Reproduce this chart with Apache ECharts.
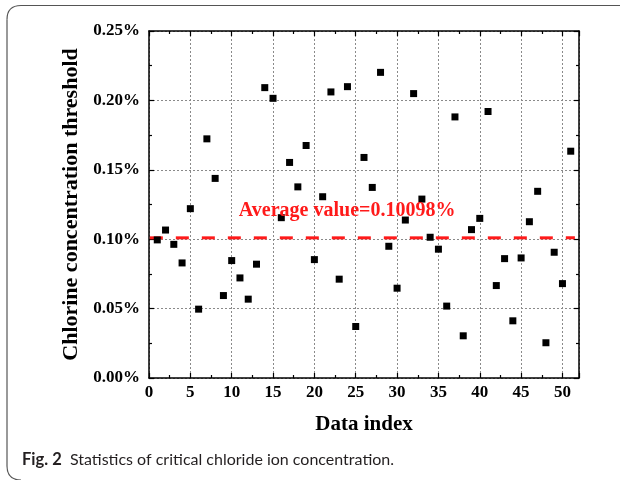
<!DOCTYPE html>
<html>
<head>
<meta charset="utf-8">
<script src="https://cdn.jsdelivr.net/npm/echarts@6/dist/echarts.min.js"></script>
<style>
html,body{margin:0;padding:0;background:#fff;}
#chart{width:624px;height:480px;}
</style>
</head>
<body>
<div id="chart"></div>
<script>
// ---- data ----
const dataIndex = [1,2,3,4,5,6,7,8,9,10,11,12,13,14,15,16,17,18,19,20,21,22,23,24,25,26,27,28,29,30,31,32,33,34,35,36,37,38,39,40,41,42,43,44,45,46,47,48,49,50,51];
const thresholdPct = [0.0995,0.1066,0.0963,0.0829,0.1220,0.0496,0.1723,0.1438,0.0594,0.0846,
  0.0721,0.0568,0.0820,0.2092,0.2015,0.1155,0.1553,0.1377,0.1675,0.0853,
  0.1306,0.2061,0.0712,0.2099,0.0371,0.1589,0.1373,0.2202,0.0949,0.0647,
  0.1138,0.2049,0.1289,0.1014,0.0928,0.0518,0.1881,0.0304,0.1069,0.1150,
  0.1920,0.0666,0.0860,0.0412,0.0865,0.1126,0.1345,0.0254,0.0906,0.0680,0.1634];
const averageValue = 0.10098;
const averageLineX = [0.1, 51.5];
const averageLabelAt = [23.96, 0.1208];
const xTicks = [0,5,10,15,20,25,30,35,40,45,50];
const yTicks = [0,0.05,0.10,0.15,0.20,0.25];
const xTitle = 'Data index';
const yTitle = 'Chlorine concentration threshold';
const captionBold = 'Fig. 2';
const captionText = 'Statistics of critical chloride ion concentration.';

const serif = '"Liberation Serif","Times New Roman",serif';
const sans = 'Lato, "Open Sans", sans-serif';
const scatterData = dataIndex.map((x, i) => [x, thresholdPct[i]]);
const avgData = averageLineX.map(x => [x, averageValue]);

const chart = echarts.init(document.getElementById('chart'), null, {renderer: 'canvas'});

const gridLine = {show: true, lineStyle: {color: '#8a8a8a', width: 1, type: [2, 2]}};
const axisLineStyle = {show: true, onZero: false, lineStyle: {color: '#000', width: 1.5}};

const option = {
  backgroundColor: '#fff',
  animation: false,
  grid: {left: 149, right: 45, top: 31, bottom: 102, containLabel: false},
  xAxis: [{
    type: 'value', position: 'bottom', min: 0, max: 52, interval: 5,
    axisLine: axisLineStyle,
    axisTick: {show: true, inside: true, length: 5, lineStyle: {color: '#000', width: 1.2}},
    minorTick: {show: true, splitNumber: 2, length: 3, lineStyle: {color: '#000', width: 1.2}},
    splitLine: gridLine,
    axisLabel: {
      show: true, margin: 6, showMaxLabel: false,
      color: '#000', fontFamily: serif, fontWeight: 'bold', fontSize: 17,
      formatter: v => xTicks.indexOf(v) >= 0 ? String(v) : ''
    },
    name: xTitle, nameLocation: 'middle', nameGap: 36,
    nameTextStyle: {color: '#000', fontFamily: serif, fontWeight: 'bold', fontSize: 21}
  }, {
    type: 'value', position: 'top', min: 0, max: 52, interval: 5,
    axisLine: axisLineStyle,
    axisTick: {show: true, inside: true, length: 5, lineStyle: {color: '#000', width: 1.2}},
    minorTick: {show: true, splitNumber: 2, length: 3, lineStyle: {color: '#000', width: 1.2}},
    splitLine: {show: false}, axisLabel: {show: false}
  }],
  yAxis: [{
    type: 'value', position: 'left', min: 0, max: 0.25, interval: 0.05,
    axisLine: axisLineStyle,
    axisTick: {show: true, inside: true, length: 5, lineStyle: {color: '#000', width: 1.2}},
    minorTick: {show: true, splitNumber: 2, length: 3, lineStyle: {color: '#000', width: 1.2}},
    splitLine: gridLine,
    axisLabel: {
      show: true, margin: 9, color: '#000', fontFamily: serif, fontWeight: 'bold', fontSize: 17,
      formatter: v => {
        const t = yTicks.find(y => Math.abs(y - v) < 1e-9);
        return t === undefined ? '' : t.toFixed(2) + '%';
      }
    },
    name: yTitle, nameLocation: 'middle', nameGap: 65, nameRotate: 90,
    nameTextStyle: {color: '#000', fontFamily: serif, fontWeight: 'bold', fontSize: 22}
  }, {
    type: 'value', position: 'right', min: 0, max: 0.25, interval: 0.05,
    axisLine: axisLineStyle,
    axisTick: {show: true, inside: true, length: 5, lineStyle: {color: '#000', width: 1.2}},
    minorTick: {show: true, splitNumber: 2, length: 3, lineStyle: {color: '#000', width: 1.2}},
    splitLine: {show: false}, axisLabel: {show: false}
  }],
  series: [{
    type: 'line', xAxisIndex: 0, yAxisIndex: 0,
    data: avgData, symbol: 'none', silent: true, z: 3,
    lineStyle: {color: '#ff1a1a', width: 3, type: [13, 13]}
  }, {
    type: 'scatter', xAxisIndex: 0, yAxisIndex: 0,
    data: scatterData, symbol: 'rect', symbolSize: 7, z: 4,
    itemStyle: {color: '#000', opacity: 1}
  }, {
    type: 'scatter', xAxisIndex: 0, yAxisIndex: 0,
    data: [averageLabelAt], symbolSize: 1, silent: true, z: 5,
    itemStyle: {color: 'rgba(0,0,0,0)', opacity: 1},
    label: {
      show: true, position: 'inside', color: '#ff1a1a',
      fontFamily: serif, fontWeight: 'bold', fontSize: 20,
      formatter: () => 'Average value=' + averageValue.toFixed(5) + '%'
    }
  }],
  graphic: [{
    type: 'line', silent: true,
    shape: {x1: 620, y1: 5.5, x2: 21, y2: 5.5},
    style: {stroke: '#555', lineWidth: 1.2}
  }, {
    type: 'bezierCurve', silent: true,
    shape: {x1: 21, y1: 5.5, x2: 7, y2: 19.5, cpx1: 7, cpy1: 5.5},
    style: {fill: 'none', stroke: '#555', lineWidth: 1.2}
  }, {
    type: 'line', silent: true,
    shape: {x1: 7, y1: 19.5, x2: 7, y2: 466},
    style: {stroke: '#555', lineWidth: 1.2}
  }, {
    type: 'bezierCurve', silent: true,
    shape: {x1: 7, y1: 466, x2: 21, y2: 480, cpx1: 7, cpy1: 480},
    style: {fill: 'none', stroke: '#555', lineWidth: 1.2}
  }, {
    type: 'text', left: 22, top: 451,
    style: {
      text: '{b|' + captionBold + '}  ' + captionText,
      rich: {b: {fontWeight: 'bold', fontFamily: sans, fontSize: 16.5, fill: '#231f20'}},
      fontFamily: sans, fontSize: 16, fill: '#231f20'
    }
  }]
};
chart.setOption(option);
</script>
</body>
</html>
